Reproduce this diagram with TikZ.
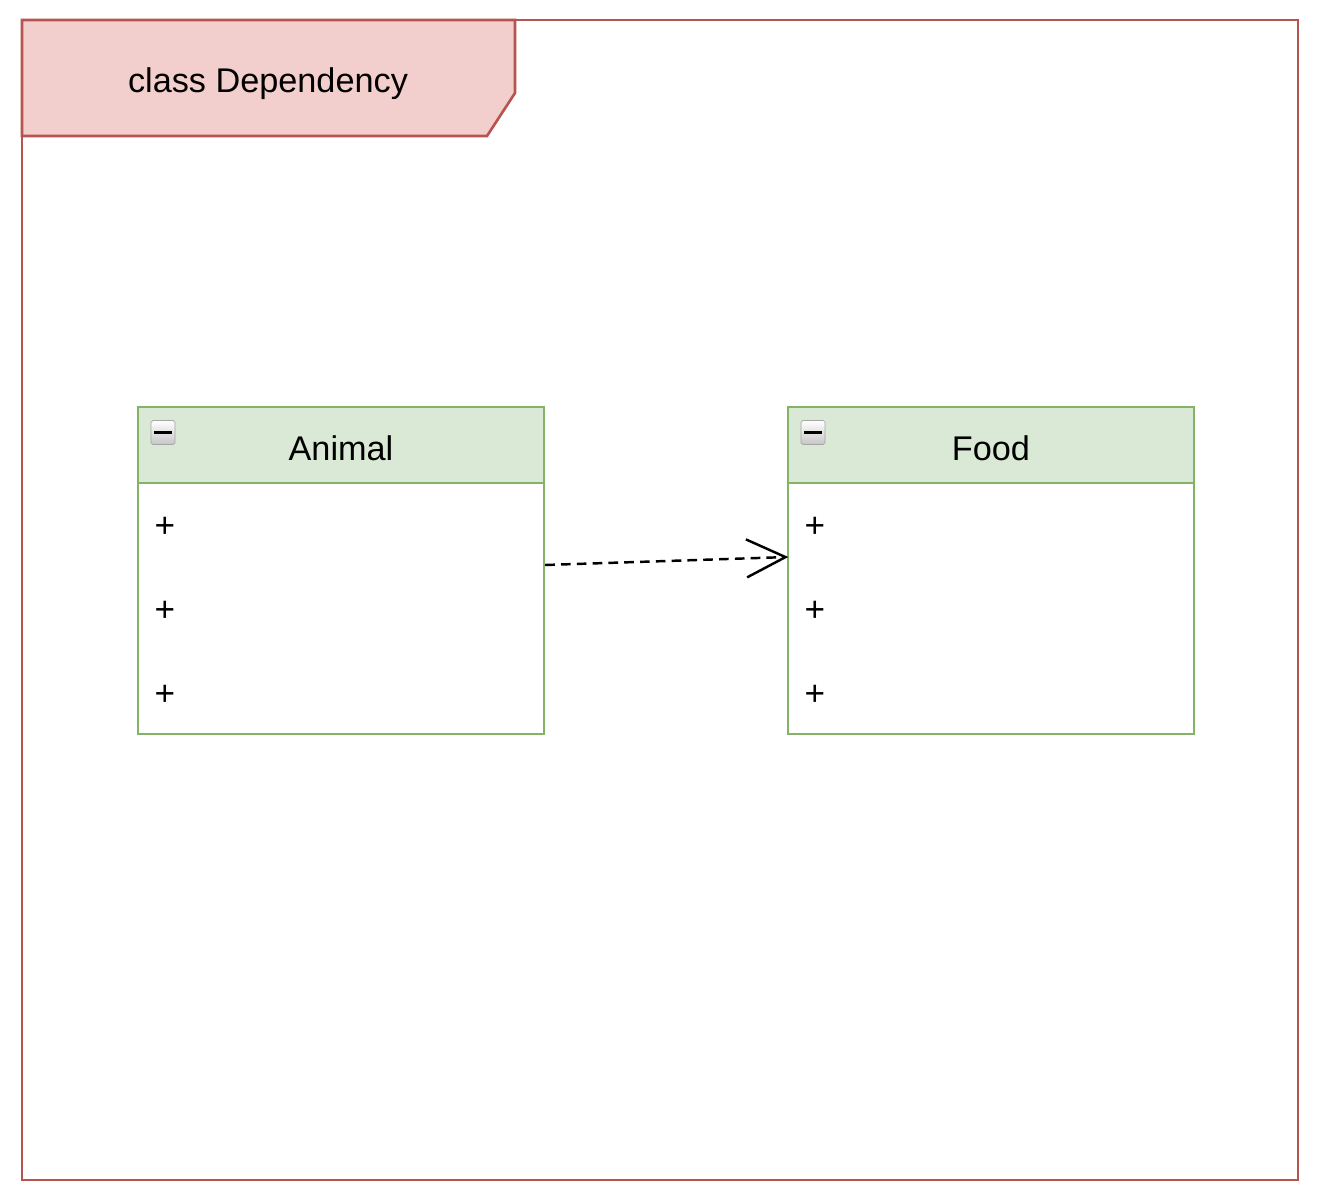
\documentclass[tikz,border=0pt]{standalone}
\usepackage{fontspec}
\setmainfont{Liberation Sans}
\usetikzlibrary{arrows.meta}

\definecolor{framered}{HTML}{B85450}
\definecolor{framefill}{HTML}{F2CFCC}
\definecolor{boxgreen}{HTML}{82B366}
\definecolor{headfill}{HTML}{DAE8D6}

\begin{document}
\begin{tikzpicture}
            [x=0.02cm,y=-0.02cm,
             classbody/.style={draw=boxgreen,line width=1.4pt,fill=white,minimum width=8.12cm,minimum height=6.54cm,inner sep=0pt},
             classhead/.style={draw=boxgreen,line width=1.4pt,fill=headfill,minimum width=8.12cm,minimum height=1.52cm,inner sep=0pt},
             classname/.style={font=\fontsize{19.5}{22}\selectfont},
             member/.style={font=\fontsize{20}{22}\selectfont,inner sep=0pt},
             foldicon/.style={draw=gray!70,line width=0.4pt,rounded corners=1pt,top color=white,bottom color=gray!45,minimum size=0.48cm,inner sep=0pt}]
            \fill[white] (0,0) rectangle (1322,1202);
            % the frame
            \draw[draw=framered,line width=1.5pt] (22,20) rectangle (1298,1180);
            \draw[draw=framered,fill=framefill,line width=1.5pt] (22,20) -- (515,20) -- (515,93) -- (487,136) -- (22,136) -- cycle;
            \node[classname] (title) at (268,84) {class Dependency};
            % class Animal
            \node[classbody] (animal) at (341,570.5) {};
            \node[classhead] (animal head) at (341,445) {};
            \node[classname] (animal name) at (341,448) {Animal};
            \node[foldicon] (animal fold) at (163,432.5) {};
            \draw[line width=1.6pt] ([xshift=-0.18cm]animal fold.center) -- ([xshift=0.18cm]animal fold.center);
            \node[member] (a1) at (165,527) {+};
            \node[member] (a2) at (165,611) {+};
            \node[member] (a3) at (165,695) {+};
            % class Food
            \node[classbody] (food) at (991,570.5) {};
            \node[classhead] (food head) at (991,445) {};
            \node[classname] (food name) at (991,448) {Food};
            \node[foldicon] (food fold) at (813,432.5) {};
            \draw[line width=1.6pt] ([xshift=-0.18cm]food fold.center) -- ([xshift=0.18cm]food fold.center);
            \node[member] (f1) at (815,527) {+};
            \node[member] (f2) at (815,611) {+};
            \node[member] (f3) at (815,695) {+};
            % the dependency
            \draw[line width=1.4pt,dash pattern=on 5.5pt off 3.5pt,-{Straight Barb[length=0.78cm,width=0.76cm]}]
                ([yshift=0.11cm]animal.east) -- ([yshift=0.27cm,xshift=0.03cm]food.west);
        \end{tikzpicture}
\end{document}
